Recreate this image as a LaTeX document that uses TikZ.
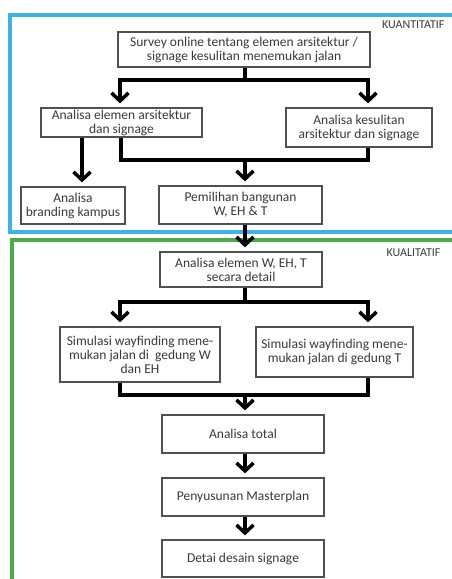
\documentclass[tikz,border=0pt]{standalone}
\usepackage{fontspec}
\setmainfont{Carlito}
\usetikzlibrary{arrows.meta}
\definecolor{kuanblue}{HTML}{3DB2E3}
\definecolor{kualgreen}{HTML}{4DAA48}
\definecolor{boxline}{HTML}{505050}
\definecolor{boxtext}{HTML}{3A3A3A}
\tikzset{
  box/.style={draw=boxline, line width=1.3pt, fill=white, align=center,
    inner sep=1pt, text=boxtext, font=\fontsize{13.5}{14}\selectfont},
  trunk/.style={line width=3.5pt, line join=miter},
  flow/.style={trunk, -{Straight Barb[length=8pt,width=17pt]}, shorten >=4pt},
  tag/.style={anchor=east, text=boxtext, font=\fontsize{12}{13}\selectfont}
}
\begin{document}
\begin{tikzpicture}[x=1pt,y=-1pt]
  \clip (0,0) rectangle (452,579);
  \fill[white] (0,0) rectangle (452,579);
  \draw[kuanblue, line width=4pt] (10,15) rectangle (480,232);
  \draw[kualgreen, line width=4pt] (12,240) rectangle (480,620);
  \node[tag] (kuan) at (448,25) {KUANTITATIF};
  \node[tag] (kual) at (444,253) {KUALITATIF};

  \node[box, minimum width=252, minimum height=35] (survey) at (244,49.5)
    {Survey online tentang elemen arsitektur /\\signage kesulitan menemukan jalan};
  \node[box, minimum width=161, minimum height=29] (elemen) at (121.5,122.5)
    {Analisa elemen arsitektur\\dan signage};
  \node[box, minimum width=146, minimum height=39] (kesulitan) at (359,127.5)
    {Analisa kesulitan\\arsitektur dan signage};
  \node[box, minimum width=104, minimum height=37] (branding) at (73,205.5)
    {Analisa\\branding kampus};
  \node[box, minimum width=163, minimum height=38] (pemilihan) at (240.5,205)
    {Pemilihan bangunan\\W, EH \& T};
  \node[box, minimum width=162, minimum height=35] (detail) at (241,269.5)
    {Analisa elemen W, EH, T\\secara detail};
  \node[box, minimum width=160, minimum height=55] (simW) at (140,354.5)
    {Simulasi wayfinding mene-\\mukan jalan di~~gedung W\\dan EH};
  \node[box, minimum width=157, minimum height=50] (simT) at (334.5,352)
    {Simulasi wayfinding mene-\\mukan jalan di gedung T};
  \node[box, minimum width=162, minimum height=38] (total) at (243,434)
    {Analisa total};
  \node[box, minimum width=162, minimum height=38] (master) at (243,497)
    {Penyusunan Masterplan};
  \node[box, minimum width=162, minimum height=37] (desain) at (243,558.5)
    {Detai desain signage};

  \coordinate (s1) at (245,80);
  \coordinate (m1) at (245,160);
  \coordinate (s2) at (245,302);
  \coordinate (m2) at (245,395);

  \draw[trunk] (survey.south -| s1) -- (s1);
  \draw[flow] (s1) -| ([xshift=-1.5]elemen.north);
  \draw[flow] (s1) -| ([xshift=9]kesulitan.north);
  \draw[trunk] ([xshift=-0.5]elemen.south) |- (m1) -| ([xshift=9]kesulitan.south);
  \draw[flow] (m1) -- (pemilihan.north -| m1);
  \draw[flow] ([xshift=-39.5]elemen.south) -- ([xshift=-39.5]elemen.south |- branding.north);
  \draw[flow] (pemilihan.south -| m1) -- (detail.north -| m1);

  \draw[trunk] (detail.south -| s2) -- (s2);
  \draw[flow] (s2) -| ([xshift=-20]simW.north);
  \draw[flow] (s2) -| ([xshift=33.5]simT.north);
  \draw[trunk] ([xshift=-20]simW.south) |- (m2) -| ([xshift=33.5]simT.south);
  \draw[flow] (m2) -- (total.north -| m2);
  \draw[flow] (total.south -| m2) -- (master.north -| m2);
  \draw[flow] (master.south -| m2) -- (desain.north -| m2);
\end{tikzpicture}
\end{document}
